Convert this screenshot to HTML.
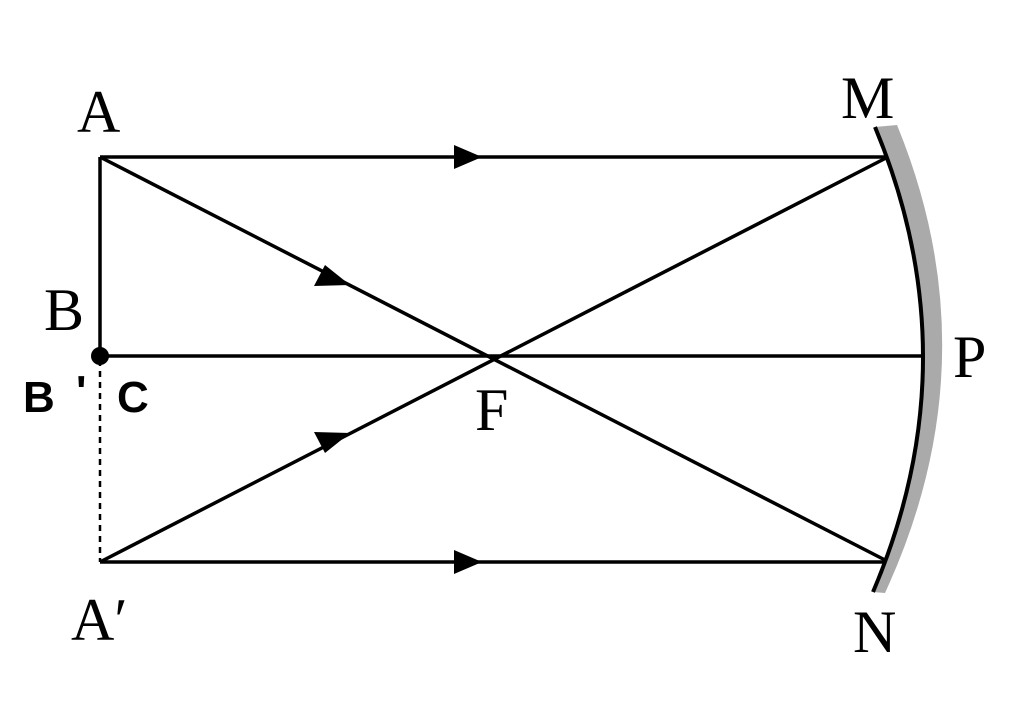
<!DOCTYPE html>
<html><head><meta charset="utf-8"><style>
html,body{margin:0;padding:0;background:#fff;}
svg{display:block;}
.s{font-family:"Liberation Serif",serif;font-size:60px;fill:#000;}
.b{font-family:"Liberation Sans",sans-serif;font-size:44px;font-weight:bold;fill:#000;}
</style></head><body>
<svg width="1024" height="724" viewBox="0 0 1024 724" xmlns="http://www.w3.org/2000/svg">
<path d="M897,125 Q993,359 885,593 L873,592 Q972,359.5 875,127 Z" fill="#aaa"/>
<path d="M875,127 Q972,359.5 873,592" fill="none" stroke="#000" stroke-width="4"/>
<g stroke="#000" stroke-width="3.5" fill="none">
<line x1="100" y1="157" x2="886" y2="157"/>
<line x1="100" y1="157" x2="100" y2="356"/>
<line x1="100" y1="157" x2="885" y2="560"/>
<line x1="100" y1="562" x2="886" y2="158"/>
<line x1="100" y1="562" x2="885" y2="562"/>
<line x1="100" y1="356" x2="923" y2="356"/>
<line x1="100" y1="360" x2="100" y2="562" stroke-dasharray="6,5" stroke-width="2.5"/>
</g>
<circle cx="100" cy="356" r="9" fill="#000"/>
<g fill="#000">
<polygon points="482,157 454,145 454,169"/>
<polygon points="482,562 454,550 454,574"/>
<polygon points="350,285 325,265 314,286"/>
<polygon points="350,433 314,432 325,453"/>
</g>
<text class="s" x="77" y="132">A</text>
<text class="s" x="841" y="118">M</text>
<text class="s" x="44" y="330">B</text>
<text class="s" x="953" y="377">P</text>
<text class="s" x="475" y="430">F</text>
<text class="s" x="853" y="652">N</text>
<text class="s" x="71" y="640">A′</text>
<text class="b" x="23" y="412">B</text>
<text class="b" x="76" y="406">'</text>
<text class="b" x="117" y="412">C</text>
</svg>
</body></html>
